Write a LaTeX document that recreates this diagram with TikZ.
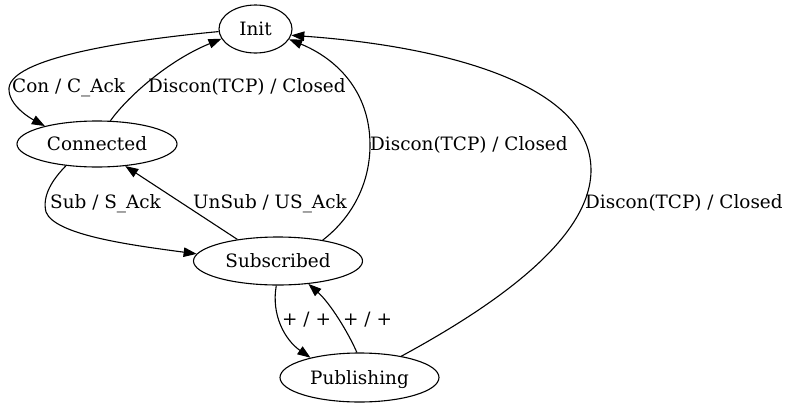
\documentclass[tikz,border=0pt]{standalone}
\usepackage{fontspec}
\setmainfont{DejaVu Serif}
\usetikzlibrary{arrows.meta,shapes.geometric}
\tikzset{
  state/.style={draw, ellipse, line width=1.1pt, inner sep=0pt, text height=13.4pt, text depth=0pt},
  edge/.style={draw, line width=1.1pt, -{Triangle[length=13pt,width=9.5pt]}},
  lbl/.style={anchor=base west, inner sep=0pt},
}
\begin{document}
\begin{tikzpicture}[x=1pt,y=-1pt,font=\fontsize{18.4}{22}\selectfont]
\useasboundingbox (0,0) rectangle (791,407);
\fill[white] (0,0) rectangle (791,407);
\node[state, minimum width=73pt, minimum height=48pt] (Init) at (255.5,29) {Init};
\node[state, minimum width=160pt, minimum height=46pt] (Con) at (97,144) {Connected};
\node[state, minimum width=169pt, minimum height=48pt] (Sub) at (278,261) {Subscribed};
\node[state, minimum width=159pt, minimum height=49pt] (Pub) at (359.5,377.5) {Publishing};

% Init -> Connected
\draw[edge] (Init.184) .. controls (150,38) and (12,55) .. (9,88) .. controls (8,105) and (30,118) .. (Con.161);
\node[lbl] (l1) at (12,92) {Con / C\_Ack};
% Connected -> Init
\draw[edge] (Con.60) .. controls (125,100) and (165,62) .. (Init.196);
\node[lbl] (l2) at (148,92) {Discon(TCP) / Closed};
% Connected -> Subscribed
\draw[edge] (Con.215) .. controls (52,180) and (42,196) .. (46,212) .. controls (55,235) and (130,245) .. (Sub.175);
\node[lbl] (l3) at (50,208) {Sub / S\_Ack};
% Subscribed -> Connected
\draw[edge] (Sub.152) -- (Con.322);
\node[lbl] (l4) at (193,208) {UnSub / US\_Ack};
% Subscribed -> Init
\draw[edge] (Sub.25) .. controls (355,215) and (370,180) .. (370,145) .. controls (370,90) and (335,58) .. (Init.343);
\node[lbl] (l5) at (370,150) {Discon(TCP) / Closed};
% Subscribed -> Publishing
\draw[edge] (Sub.266) .. controls (271,315) and (285,340) .. (Pub.158);
\node[lbl] (l6) at (282,325) {+ / +};
% Publishing -> Subscribed
\draw[edge] (Pub.96) .. controls (348,332) and (330,303) .. (Sub.323);
\node[lbl] (l7) at (343,325) {+ / +};
% Publishing -> Init
\draw[edge] (Pub.27) .. controls (505,300) and (591,235) .. (591,170) .. controls (591,80) and (430,45) .. (Init.350);
\node[lbl] (l8) at (585,208) {Discon(TCP) / Closed};
\end{tikzpicture}
\end{document}
